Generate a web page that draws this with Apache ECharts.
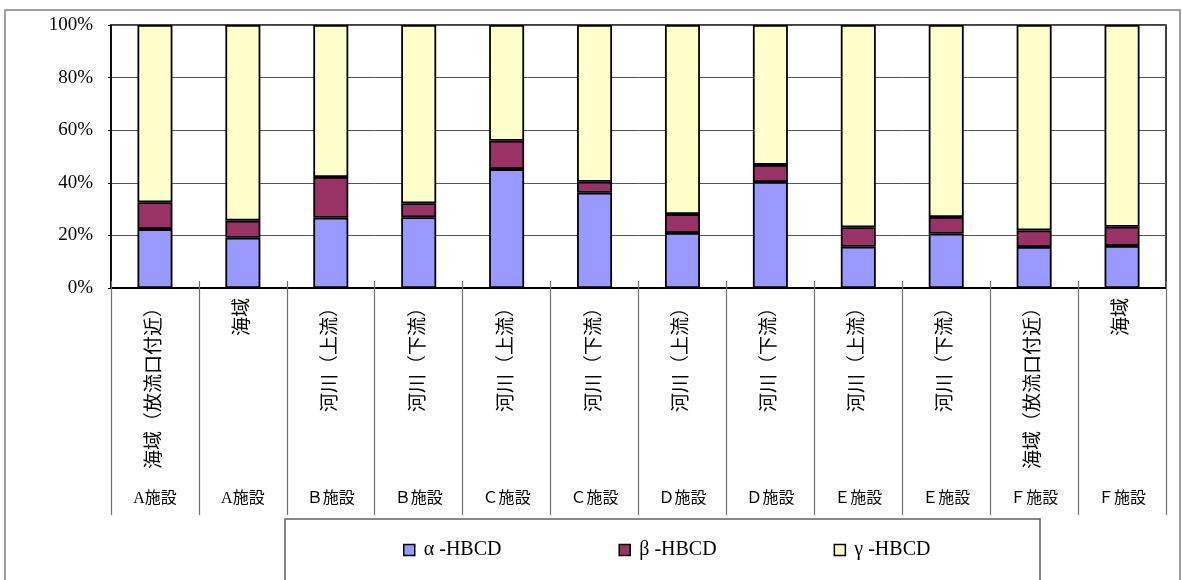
<!DOCTYPE html>
<html>
<head>
<meta charset="utf-8">
<script src="https://cdn.jsdelivr.net/npm/echarts@6/dist/echarts.min.js"></script>
<style>
html,body{margin:0;padding:0;background:#fff;}
#chart{width:1182px;height:580px;}
</style>
</head>
<body>
<div id="chart"></div>
<script>
const locations = ["海域（放流口付近）","海域","河川（上流）","河川（下流）","河川（上流）","河川（下流）","河川（上流）","河川（下流）","河川（上流）","河川（下流）","海域（放流口付近）","海域"];
const facilities = ["A施設","A施設","Ｂ施設","Ｂ施設","Ｃ施設","Ｃ施設","Ｄ施設","Ｄ施設","Ｅ施設","Ｅ施設","Ｆ施設","Ｆ施設"];
const alphaVals = [22.4, 19.1, 26.7, 26.9, 45.2, 36.2, 20.9, 40.3, 15.7, 20.6, 15.6, 16.0];
const betaVals  = [10.2, 6.5, 15.5, 5.3, 10.8, 4.2, 7.2, 6.5, 7.4, 6.4, 6.3, 7.3];
const gammaVals = [67.4, 74.4, 57.8, 67.8, 44.0, 59.6, 71.9, 53.2, 76.9, 73.0, 78.1, 76.7];
const seriesNames = ["α -HBCD","β -HBCD","γ -HBCD"];
const yTicks = [0, 20, 40, 60, 80, 100];

const serif = "'Liberation Serif','Noto Sans CJK JP',serif";
const chart = echarts.init(document.getElementById('chart'), null, {renderer:'canvas'});
const barStyle = c => ({color:c, borderColor:'#000', borderWidth:1.8});
chart.setOption({
  animation:false,
  backgroundColor:'#fff',
  graphic:[
    {type:'rect', shape:{x:5,y:10,width:1175,height:620}, style:{fill:null, stroke:'#808080', lineWidth:1.5}, z:-1},
    {type:'rect', shape:{x:285,y:519,width:755,height:100}, style:{fill:null, stroke:'#606060', lineWidth:1.5}, z:-1}
  ],
  grid:{left:111, right:16, top:25, bottom:292, show:true, borderColor:'#000', borderWidth:1.5, backgroundColor:'transparent'},
  legend:{
    left:403, top:540, padding:0,
    itemWidth:11, itemHeight:11, itemGap:117,
    icon:'rect',
    itemStyle:{borderColor:'#000', borderWidth:1.5},
    textStyle:{fontFamily:serif, fontSize:20, color:'#000', padding:[0,0,0,4], lineHeight:20},
    data:seriesNames
  },
  xAxis:[
    {
      type:'category', data:locations, position:'bottom',
      axisLine:{lineStyle:{color:'#000', width:2}},
      axisTick:{show:true, length:227, interval:0, lineStyle:{color:'#707070', width:1.2}},
      axisLabel:{rotate:90, interval:0, margin:10, fontFamily:serif, fontSize:19, color:'#000'}
    },
    {
      type:'category', data:facilities, position:'bottom', offset:0,
      axisLine:{show:false},
      axisTick:{show:true, inside:true, length:7, interval:0, lineStyle:{color:'#707070', width:1.2}},
      axisLabel:{interval:0, margin:203, fontFamily:serif, fontSize:16, color:'#000'}
    }
  ],
  yAxis:{
    type:'value', min:yTicks[0], max:yTicks[yTicks.length-1], interval:20,
    axisLine:{show:true, lineStyle:{color:'#000', width:1.5}},
    axisTick:{show:true, length:3, lineStyle:{color:'#000'}},
    splitLine:{show:true, lineStyle:{color:'#555', width:1}},
    axisLabel:{formatter:'{value}%', fontFamily:serif, fontSize:19, color:'#000', margin:18}
  },
  series:[
    {name:seriesNames[0], type:'bar', stack:'s', barWidth:35, data:alphaVals, itemStyle:barStyle('#9999FF')},
    {name:seriesNames[1], type:'bar', stack:'s', barWidth:35, data:betaVals, itemStyle:barStyle('#993366')},
    {name:seriesNames[2], type:'bar', stack:'s', barWidth:35, data:gammaVals, itemStyle:barStyle('#FFFFCC')}
  ]
});
</script>
</body>
</html>
